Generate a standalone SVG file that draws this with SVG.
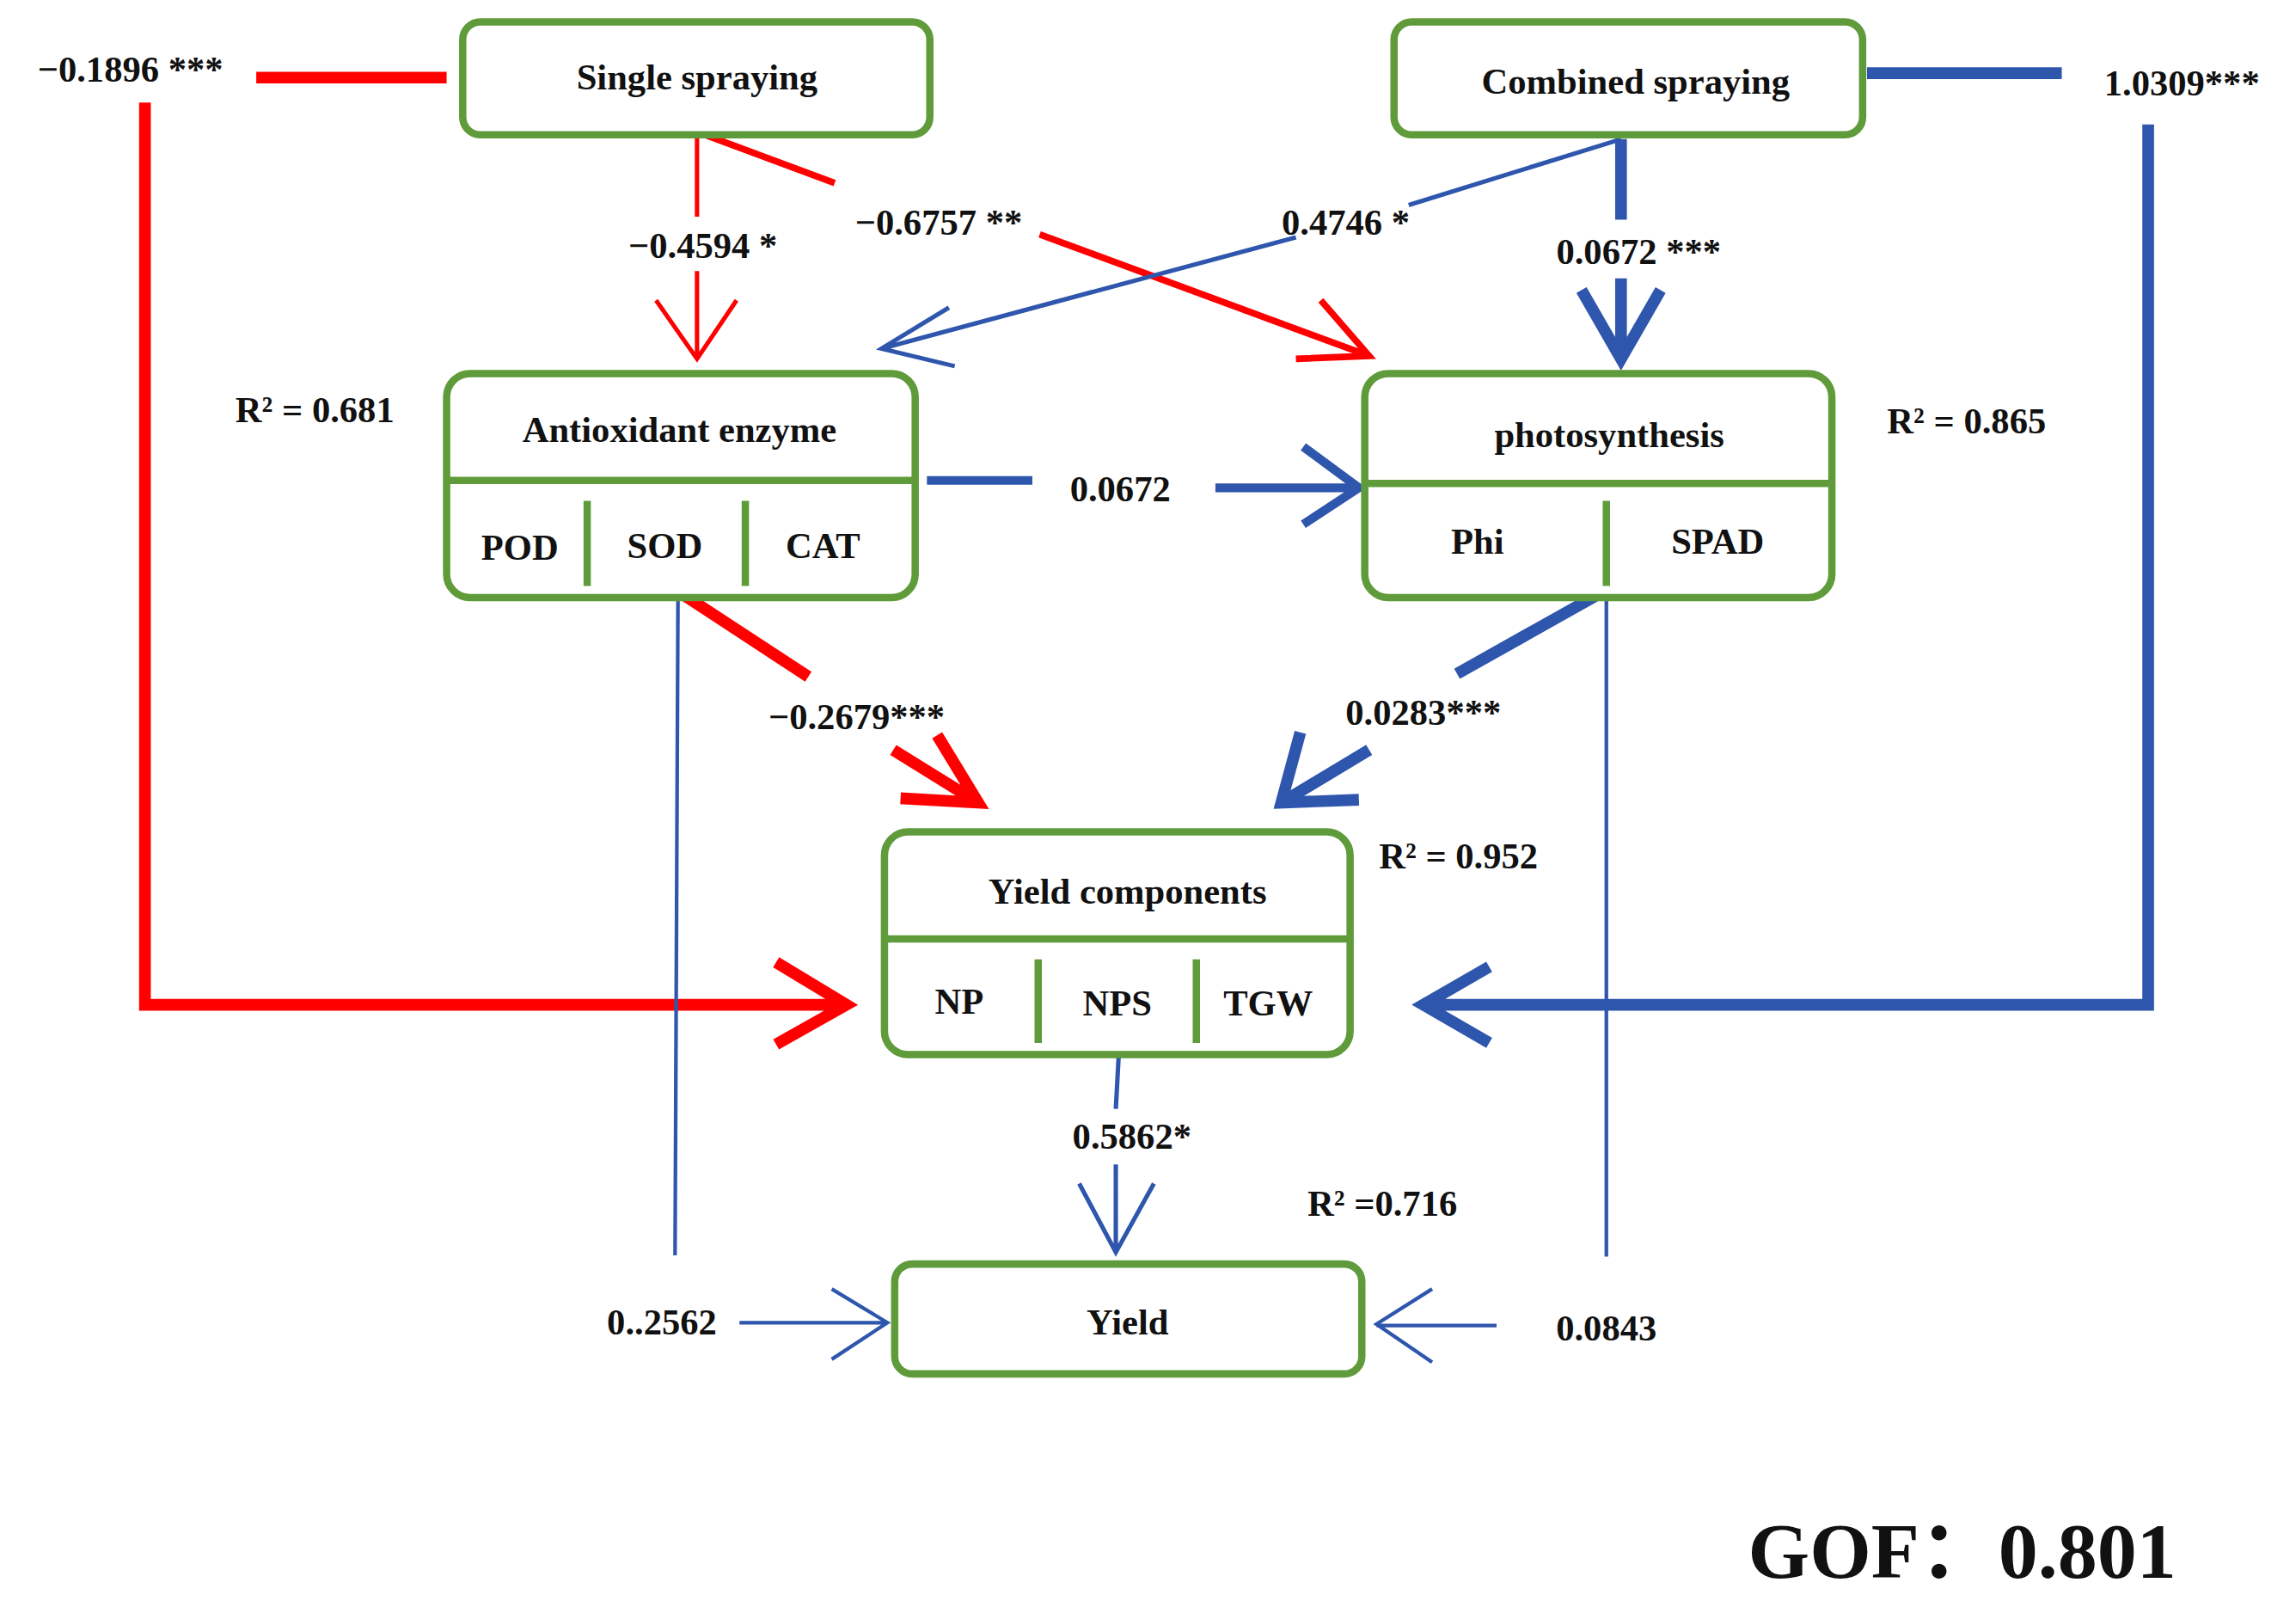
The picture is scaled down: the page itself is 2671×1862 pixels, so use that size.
<svg xmlns="http://www.w3.org/2000/svg" width="2671" height="1862" viewBox="0 0 2671 1862">
<style>
.box{fill:#fff;stroke:#5f9b3a;stroke-width:5}
.div{stroke:#5f9b3a;stroke-width:5;fill:none}
.t{font-family:"Liberation Serif",serif;font-weight:bold;font-size:25px;fill:#111;text-anchor:middle}
.r{stroke:#ff0000;fill:none;stroke-linecap:butt}
.b{stroke:#2f56ad;fill:none;stroke-linecap:butt}
</style>
<rect width="2671" height="1862" fill="#fff"/>
<g transform="scale(1.7035)">
<g id="connectors">
<path class="r" stroke-width="8" d="M175,53H305"/>
<path class="r" stroke-width="8" d="M99,70V686H578M530,657L578,686L530,713"/>
<path class="r" stroke-width="3" d="M476,92V148M476,185V245M448,205L476,245L503,205"/>
<path class="r" stroke-width="4.5" d="M476,90L570,125M710,160L935,243M902,205L935,243L885,245"/>
<path class="b" stroke-width="3" d="M1107,95L962,140M885,162L602,238M648,210L602,238L652,250"/>
<path class="b" stroke-width="8" d="M1107,95V150M1107,190V245M1080,198L1107,245L1134,198"/>
<path class="b" stroke-width="8" d="M1275,50H1408M1467,85V686H972M1017,660L972,686L1017,712"/>
<path class="b" stroke-width="6" d="M633,328H705M830,333H928M890,305L928,333L890,358"/>
<path class="r" stroke-width="8" d="M465,405L552,462M610,512L668,548M640,502L668,548L615,545"/>
<path class="b" stroke-width="8" d="M1093,405L995,460M935,512L875,548M888,500L875,548L928,546"/>
<path class="b" stroke-width="2.5" d="M463,405L461,857M505,903H606M568,880L606,903L568,928"/>
<path class="b" stroke-width="2.5" d="M1097,408V858M1022,905H940M978,880L940,904L978,930"/>
<path class="b" stroke-width="3" d="M764,720L762,757M762,795V855M737,808L762,855L788,808"/>
</g>
<g id="single"><rect class="box" x="316" y="15" width="319" height="77" rx="12"/><text class="t" x="476" y="61">Single spraying</text></g>
<g id="combined"><rect class="box" x="952" y="15" width="320" height="77" rx="12"/><text class="t" x="1117" y="64">Combined spraying</text></g>
<g id="antioxidant"><rect class="box" x="305" y="255" width="320" height="153" rx="16"/><path class="div" d="M305,328H625M401,342V400M509,342V400"/>
<text class="t" x="464" y="302">Antioxidant enzyme</text><text class="t" x="355" y="382">POD</text><text class="t" x="454" y="381">SOD</text><text class="t" x="562" y="381">CAT</text></g>
<g id="photosynthesis"><rect class="box" x="932" y="255" width="319" height="153" rx="16"/><path class="div" d="M932,330H1251M1097,342V400"/>
<text class="t" x="1099" y="305">photosynthesis</text><text class="t" x="1009" y="378">Phi</text><text class="t" x="1173" y="378">SPAD</text></g>
<g id="yieldcomp"><rect class="box" x="604" y="568" width="318" height="152" rx="16"/><path class="div" d="M604,641H922M709,655V712M817,655V712"/>
<text class="t" x="770" y="617">Yield components</text><text class="t" x="655" y="692">NP</text><text class="t" x="763" y="693">NPS</text><text class="t" x="866" y="693">TGW</text></g>
<g id="yield"><rect class="box" x="611" y="863" width="319" height="75" rx="12"/><text class="t" x="770" y="911">Yield</text></g>
<g id="labels">
<text class="t" x="89" y="56">−0.1896 ***</text>
<text class="t" x="480" y="176">−0.4594 *</text>
<text class="t" x="641" y="160">−0.6757 **</text>
<text class="t" x="919" y="160">0.4746 *</text>
<text class="t" x="1119" y="180">0.0672 ***</text>
<text class="t" x="1490" y="65">1.0309***</text>
<text class="t" x="765" y="342">0.0672</text>
<text class="t" x="585" y="498">−0.2679***</text>
<text class="t" x="972" y="495">0.0283***</text>
<text class="t" x="452" y="911">0..2562</text>
<text class="t" x="1097" y="915">0.0843</text>
<text class="t" x="773" y="784">0.5862*</text>
<text class="t" x="215" y="288">R² = 0.681</text>
<text class="t" x="1343" y="296">R² = 0.865</text>
<text class="t" x="996" y="593">R² = 0.952</text>
<text class="t" x="944" y="830">R² =0.716</text>
<text x="1340" y="1077" style="font-family:'Liberation Serif','Noto Sans CJK SC',serif;font-weight:bold;font-size:54px;fill:#111;text-anchor:middle">GOF：0.801</text>
</g>
</g>
</svg>
